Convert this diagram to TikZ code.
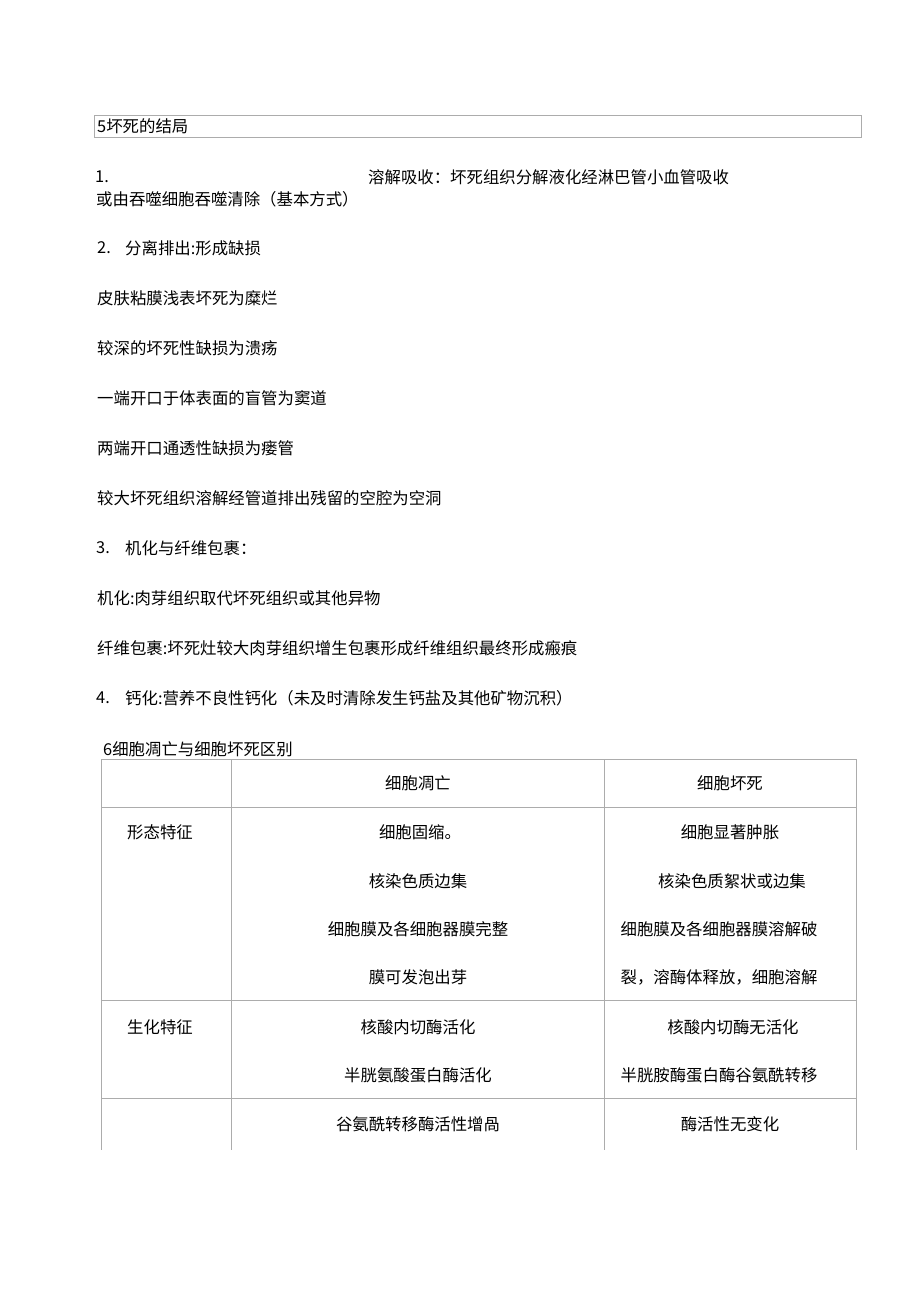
\documentclass[tikz,border=0pt]{standalone}
\usepackage{fontspec}
\usepackage{tikz}
\newfontfamily\cjk{Noto Sans CJK SC}

\begin{document}
\begin{tikzpicture}[x=1pt,y=-1pt,
  every node/.style={font=\cjk\fontsize{16.4}{18}\selectfont,inner sep=0pt},
  rule/.style={draw=gray!65,line width=0.9pt}]
\useasboundingbox [fill=white] (0,0) rectangle (920,1303);

\draw [rule] (94,115) rectangle (861,137);
\node (h5) [right] at (97,126) {5坏死的结局};

\node (n1) [right] at (95,177) {1.};
\node (dis) [right] at (368,177) {溶解吸收：坏死组织分解液化经淋巴管小血管吸收};
\node (dis2) [right] at (96,199) {或由吞噬细胞吞噬清除（基本方式）};

\node (n2) [right] at (97,248) {2.};
\node (sep) [right] at (125,248) {分离排出:形成缺损};
\node (ero) [right] at (97,298) {皮肤粘膜浅表坏死为糜烂};
\node (ulc) [right] at (97,348) {较深的坏死性缺损为溃疡};
\node (sin) [right] at (97,398) {一端开口于体表面的盲管为窦道};
\node (fis) [right] at (97,448) {两端开口通透性缺损为瘘管};
\node (cav) [right] at (97,498) {较大坏死组织溶解经管道排出残留的空腔为空洞};

\node (n3) [right] at (96,548) {3.};
\node (org) [right] at (125,548) {机化与纤维包裹：};
\node (org1) [right] at (97,598) {机化:肉芽组织取代坏死组织或其他异物};
\node (org2) [right] at (97,648) {纤维包裹:坏死灶较大肉芽组织增生包裹形成纤维组织最终形成瘢痕};

\node (n4) [right] at (96,698) {4.};
\node (cal) [right] at (125,698) {钙化:营养不良性钙化（未及时清除发生钙盐及其他矿物沉积）};

\node (h6) [right] at (103,749) {6细胞凋亡与细胞坏死区别};

% table
\draw [rule] (101,759) -- (856,759);
\draw [rule] (101,807) -- (856,807);
\draw [rule] (101,1000) -- (856,1000);
\draw [rule] (101,1098) -- (856,1098);
\foreach \x in {101,231,604,856}
  \draw [rule] (\x,759) -- (\x,1150);

\node (apo) at (418,783) {细胞凋亡};
\node (nec) at (730,783) {细胞坏死};

\node (morph) at (160,832) {形态特征};
\node (a1) at (420,832) {细胞固缩。};
\node (a2) at (418,881) {核染色质边集};
\node (a3) at (418,929) {细胞膜及各细胞器膜完整};
\node (a4) at (418,977) {膜可发泡出芽};
\node (b1) at (730,832) {细胞显著肿胀};
\node (b2) at (732,881) {核染色质絮状或边集};
\node (b3) at (719,929) {细胞膜及各细胞器膜溶解破};
\node (b4) at (719,977) {裂，溶酶体释放，细胞溶解};

\node (bio) at (160,1027) {生化特征};
\node (a5) at (418,1027) {核酸内切酶活化};
\node (a6) at (418,1075) {半胱氨酸蛋白酶活化};
\node (b5) at (733,1027) {核酸内切酶无活化};
\node (b6) at (719,1075) {半胱胺酶蛋白酶谷氨酰转移};

\node (a7) at (418,1124) {谷氨酰转移酶活性增咼};
\node (b7) at (730,1124) {酶活性无变化};

\end{tikzpicture}
\end{document}
